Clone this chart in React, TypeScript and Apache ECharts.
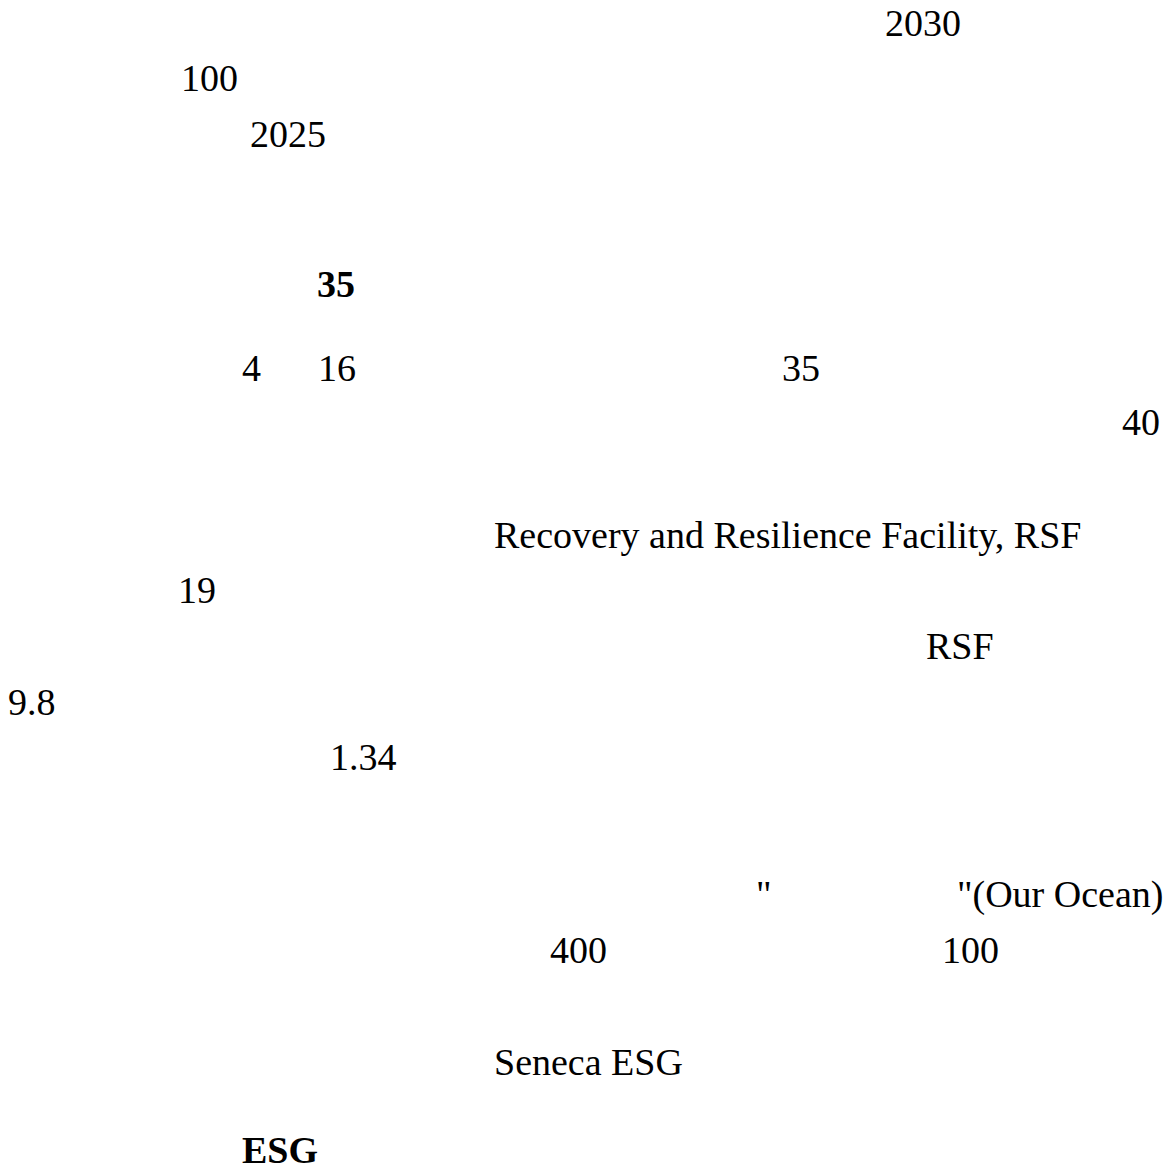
import React, { useEffect, useRef } from "react";
import * as echarts from "echarts";

// Visible text fragments of the reference (CJK glyphs rendered blank in the original)
const fragments: string[] = [
  "2030",
  "100",
  "2025",
  "35",
  "4",
  "16",
  "35",
  "40",
  "Recovery and Resilience Facility, RSF",
  "19",
  "RSF",
  "9.8",
  "1.34",
  "\"",
  "\"(Our Ocean)",
  "400",
  "100",
  "Seneca ESG",
  "ESG",
];
const boldFlags: boolean[] = [
  false, false, false, true, false, false, false, false, false, false,
  false, false, false, false, false, false, false, false, true,
];
// layout: left x and alphabetic baseline y of each fragment
const leftX: number[] = [885, 181, 250, 317, 242, 318, 782, 1122, 494, 178, 926, 8, 330, 756, 957, 550, 942, 494, 242];
const baseY: number[] = [36, 91, 147, 297, 381, 381, 381, 435, 548, 603, 659, 715, 770, 907, 907, 963, 963, 1075, 1163];

const FONT_SIZE = 38;
const CENTRAL_OFFSET = FONT_SIZE * 0.3375;

export default function App() {
  const ref = useRef<HTMLDivElement>(null);
  useEffect(() => {
    document.body.style.margin = "0";
    if (!ref.current) return;
    const chart = echarts.init(ref.current, null, { renderer: "svg" });
    const elements = fragments.map((t, i) => ({
      type: "text",
      x: leftX[i],
      y: baseY[i] - CENTRAL_OFFSET,
      style: {
        text: t,
        fill: "#000",
        font: `${boldFlags[i] ? "bold " : ""}${FONT_SIZE}px "Liberation Serif", "Times New Roman", serif`,
        align: "left",
        verticalAlign: "middle",
      },
    }));
    chart.setOption({
      animation: false,
      backgroundColor: "#fff",
      graphic: { elements },
    });
    return () => chart.dispose();
  }, []);
  return <div ref={ref} style={{ width: 1171, height: 1170 }} />;
}
